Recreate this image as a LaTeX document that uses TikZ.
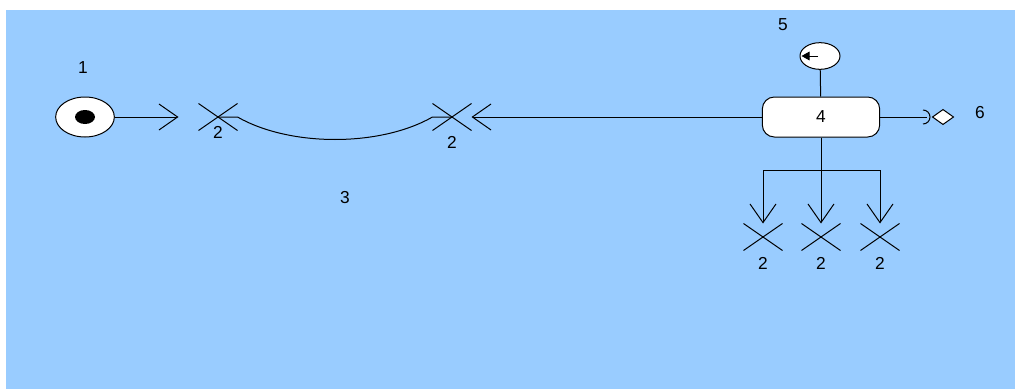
\documentclass[tikz,border=0pt]{standalone}
\usepackage{fontspec}
\setmainfont{Liberation Sans}
\usepackage{xcolor}
\definecolor{canvasblue}{RGB}{153,204,255}
\usepackage{tikz}
\usetikzlibrary{shapes.geometric,shapes.misc,arrows.meta,positioning,calc}

\begin{document}
\begin{tikzpicture}[
  x=0.75pt, y=-0.75pt,
  line width=0.75pt,
  every node/.style={font=\fontsize{13}{15}\selectfont},
  initnode/.style={ellipse, draw, fill=white, minimum width=44pt,
              minimum height=30pt, inner sep=0pt},
  endmark/.style={cross out, draw, minimum width=28.5pt,
              minimum height=19.5pt, inner sep=0pt},
  actbox/.style={rectangle, rounded corners=9pt, draw, fill=white,
              minimum width=88pt, minimum height=30pt},
  evtnode/.style={ellipse, draw, fill=white, minimum width=30pt,
              minimum height=20pt, inner sep=0pt},
  choice/.style={diamond, draw, fill=white, minimum width=16pt,
              minimum height=11.5pt, inner sep=0pt},
  arr/.style={-{Straight Barb[length=14pt,width=19.5pt]}},
  tinyarr/.style={-{Triangle[length=6pt,width=6.5pt]}},
  num/.style={inner sep=0pt}
]
\useasboundingbox (0,0) rectangle (1015,389);
\fill[canvasblue] (6,10) rectangle (1015,389);

%% nodes
\node[initnode] (init) at (85,117) {};
\fill (init.center) ellipse [x radius=7.5pt, y radius=5.25pt];
\node[endmark] (x1) at (218,117) {};
\node[endmark] (x2) at (452,117) {};
\node[actbox] (act) at (821,117) {4};
\node[evtnode] (c5) at (820,56) {};
\node[choice] (d6) at (943,117) {};
\coordinate (sock) at (927,117);
\coordinate (fork) at (821,170);
\node[endmark] (x3) at (763,237) {};
\node[endmark] (x4) at (821,237) {};
\node[endmark] (x5) at (880,237) {};

%% connectors
\draw[arr, shorten >=15pt] (init) -- (x1);
\draw (x1.center) -- (x1.east) .. controls (290,147) and (380,147) .. (x2.west) -- (x2.center);
\draw[arr] (act) -- (x2);
\draw (c5) -- (act);
\draw[tinyarr] ([xshift=-1.5pt]c5.center) -- ([xshift=1.5pt]c5.west);
\draw (act) -- (sock);
\draw ([yshift=5.25pt]sock.center) ++(-3pt,0) arc[start angle=90, end angle=-90, radius=5.25pt];
\draw[arr] (act) -- (x4);
\draw[arr] (fork) -| (x3);
\draw[arr] (fork) -| (x5);

%% numbers
\node[num] (n1) at (83,68) {1};
\node[num] (m1) at (218,132) {2};
\node[num] (m2) at (452,142) {2};
\node[num] (n3) at (345,198) {3};
\node[num] (n5) at (783,25) {5};
\node[num] (n6) at (980,113) {6};
\node[num] (m3) at (763,263) {2};
\node[num] (m4) at (821,263) {2};
\node[num] (m5) at (880,263) {2};

\end{tikzpicture}
\end{document}
